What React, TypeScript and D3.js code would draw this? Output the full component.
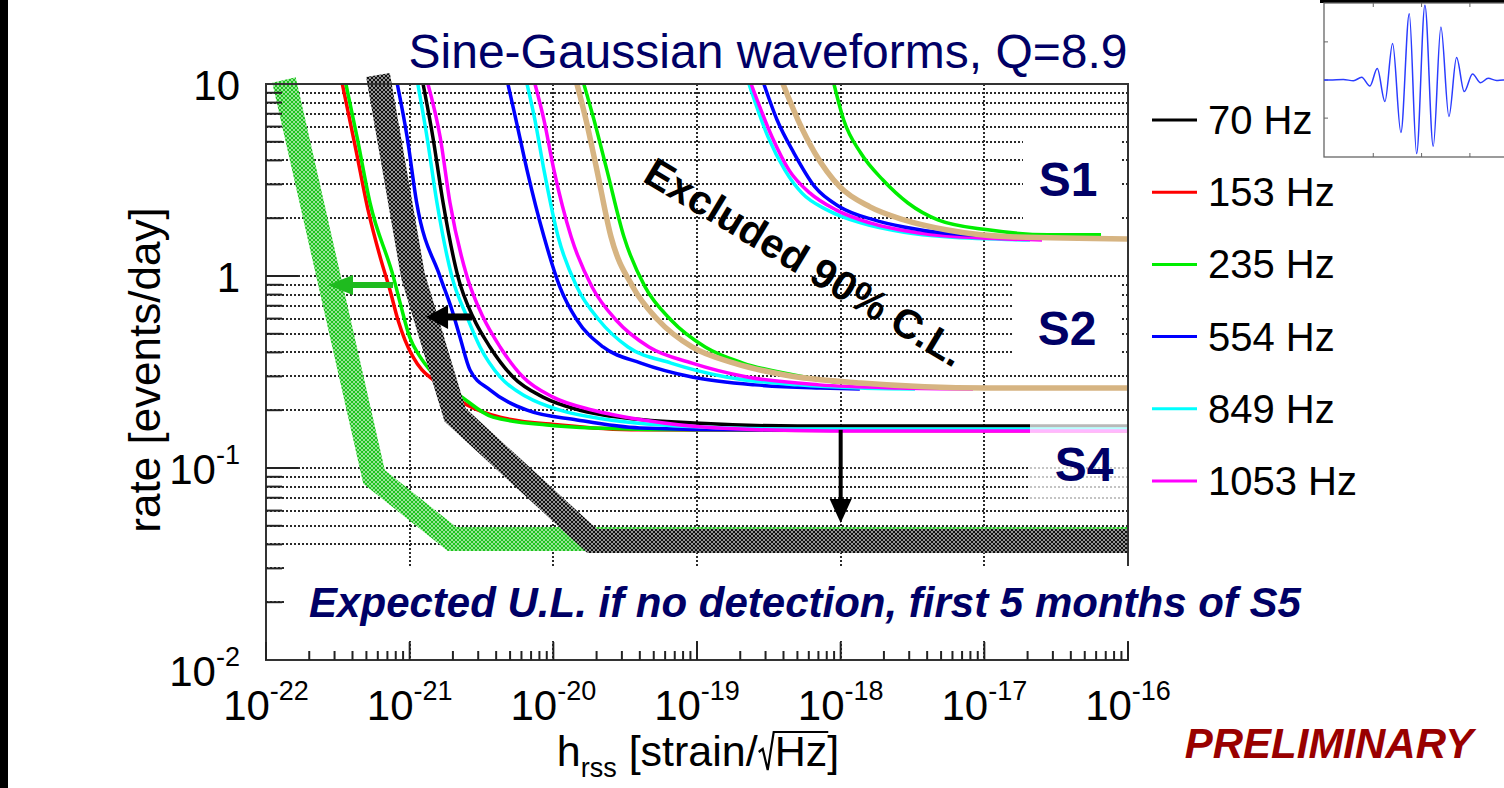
import React, { useEffect, useRef } from "react";
import * as d3 from "d3";

type Pt = [number, number]; // [h_rss (strain/sqrt(Hz)), rate (events/day)]

// ---------- S4 upper limits (plateau near 0.16 events/day)
const s4Hz70: Pt[] = [[1.24e-21, 10], [1.45e-21, 5.3], [1.71e-21, 2.4], [2.17e-21, 0.99], [2.76e-21, 0.611], [3.62e-21, 0.427], [5.24e-21, 0.298], [8.47e-21, 0.234], [1.53e-20, 0.2], [3.2e-20, 0.182], [1.05e-19, 0.171], [5e-19, 0.1655], [1e-16, 0.1655]];
const s4Hz153: Pt[] = [[3.4e-22, 10], [4.23e-22, 4.53], [5.13e-22, 2.21], [6.32e-22, 1.21], [7.29e-22, 0.846], [8.29e-22, 0.59], [9.28e-22, 0.464], [1.055e-21, 0.379], [1.218e-21, 0.324], [1.5e-21, 0.284], [2.51e-21, 0.213], [4.26e-21, 0.184], [1.11e-20, 0.1675], [4.0e-20, 0.158], [1e-16, 0.156]];
const s4Hz235: Pt[] = [[3.6e-22, 10], [4.3e-22, 5.3], [5.3e-22, 2.4], [7.7e-22, 0.99], [8.6e-22, 0.72], [1.0e-21, 0.48], [1.18e-21, 0.38], [1.38e-21, 0.324], [2.35e-21, 0.232], [3.8e-21, 0.184], [9.0e-21, 0.1675], [1.89e-20, 0.1616], [1.05e-19, 0.158], [1e-16, 0.158]];
const s4Hz554: Pt[] = [[8.2e-22, 10], [9.6e-22, 5.3], [1.12e-21, 2.4], [1.63e-21, 0.99], [1.97e-21, 0.665], [2.24e-21, 0.48], [2.63e-21, 0.324], [3.62e-21, 0.255], [6.56e-21, 0.2], [1.46e-20, 0.178], [4.0e-20, 0.1616], [2.2e-19, 0.158], [1e-16, 0.158]];
const s4Hz849: Pt[] = [[1.14e-21, 10], [1.32e-21, 5.3], [1.55e-21, 2.4], [1.97e-21, 0.99], [2.51e-21, 0.611], [3.09e-21, 0.427], [4.26e-21, 0.298], [6.56e-21, 0.234], [1.11e-20, 0.2], [2.48e-20, 0.178], [1.05e-19, 0.1636], [5e-19, 0.1596], [1e-16, 0.1596]];
const s4Hz1053: Pt[] = [[1.34e-21, 10], [1.63e-21, 5.3], [1.91e-21, 2.4], [2.51e-21, 0.99], [3.24e-21, 0.611], [4.26e-21, 0.427], [6.15e-21, 0.298], [9.95e-21, 0.234], [1.89e-20, 0.2], [4.21e-20, 0.178], [1.4e-19, 0.1616], [8.5e-19, 0.156], [1e-16, 0.156]];

// ---------- S2 upper limits (plateau near 0.26 events/day)
const s2Hz554: Pt[] = [[4.83e-21, 10], [5.5e-21, 6.49], [6.56e-21, 3.56], [8.61e-21, 1.6], [1.11e-20, 0.877], [1.46e-20, 0.59], [2.22e-20, 0.427], [4.07e-20, 0.352], [9.23e-20, 0.298], [2.53e-19, 0.271], [7.2e-19, 0.261], [1.36e-18, 0.258]];
const s2Hz849: Pt[] = [[6.56e-21, 10], [7.45e-21, 6.49], [8.61e-21, 3.56], [1.08e-20, 1.6], [1.46e-20, 0.877], [2.08e-20, 0.59], [3.31e-20, 0.427], [6.59e-20, 0.352], [1.59e-19, 0.298], [5.05e-19, 0.271], [1.36e-18, 0.261], [3.29e-18, 0.258]];
const s2Hz1053: Pt[] = [[7.45e-21, 10], [8.61e-21, 6.49], [1.01e-20, 3.56], [1.33e-20, 1.6], [1.86e-20, 0.877], [2.73e-20, 0.59], [4.63e-20, 0.427], [9.23e-20, 0.352], [2.23e-19, 0.298], [7.06e-19, 0.271], [2.6e-18, 0.261], [8.34e-18, 0.258]];
const s2Hz235: Pt[] = [[1.63e-20, 10], [1.92e-20, 6.49], [2.36e-20, 3.56], [3.1e-20, 1.6], [4.35e-20, 0.877], [6.59e-20, 0.59], [1.14e-19, 0.427], [2.09e-19, 0.352], [4.73e-19, 0.305], [9.3e-19, 0.28]];
const s2Tan: Pt[] = [[1.46e-20, 10], [1.69e-20, 6.49], [2.01e-20, 3.56], [2.52e-20, 1.6], [3.58e-20, 0.877], [5.35e-20, 0.59], [9.23e-20, 0.427], [1.81e-19, 0.352], [4.09e-19, 0.305], [1.38e-18, 0.277], [1.06e-17, 0.261], [1e-16, 0.261]];

// ---------- S1 upper limits (plateau near 1.6 events/day)
const s1Hz849: Pt[] = [[2.3e-19, 10], [3.12e-19, 5.3], [4.09e-19, 3.56], [5.38e-19, 2.7], [8.03e-19, 2.21], [1.38e-18, 1.89], [2.76e-18, 1.69], [5.41e-18, 1.6], [2.08e-17, 1.54]];
const s1Hz1053: Pt[] = [[2.38e-19, 10], [3.33e-19, 5.3], [4.37e-19, 3.56], [6.12e-19, 2.7], [9.27e-19, 2.21], [1.6e-18, 1.89], [3.62e-18, 1.67], [9.0e-18, 1.58], [2.52e-17, 1.54]];
const s1Hz554: Pt[] = [[2.92e-19, 10], [3.61e-19, 6.49], [4.73e-19, 4.37], [6.62e-19, 2.91], [9.89e-19, 2.29], [1.71e-18, 1.96], [2.76e-18, 1.8], [5.41e-18, 1.67], [1.29e-17, 1.62], [2.08e-17, 1.6]];
const s1Hz235: Pt[] = [[8.98e-19, 10], [1.05e-18, 6.49], [1.38e-18, 4.37], [1.97e-18, 3.16], [2.94e-18, 2.4], [4.75e-18, 1.96], [1.06e-17, 1.74], [2.77e-17, 1.64], [6.49e-17, 1.64]];
const s1Tan: Pt[] = [[3.97e-19, 10], [5.05e-19, 6.49], [6.62e-19, 4.37], [9.89e-19, 2.91], [1.6e-18, 2.29], [2.76e-18, 1.96], [5.41e-18, 1.74], [1.51e-17, 1.6], [1e-16, 1.56]];

// ---------- Expected S5 upper-limit bands (centre lines)
const expectedGreenBand: Pt[] = [[1.334e-22, 10.49], [5.65e-22, 0.0898], [1.97e-21, 0.0427], [1e-16, 0.0427]];
const expectedBlackBand: Pt[] = [[6.02e-22, 11.14], [1.055e-21, 1.0], [2.07e-21, 0.189], [1.86e-20, 0.0417], [1e-16, 0.0417]];

// ---------- Arrows: [from, to] in data coordinates
const greenArrow: Pt[] = [[7.66e-22, 0.898], [2.7e-22, 0.898]];
const blackArrow: Pt[] = [[2.72e-21, 0.612], [1.3e-21, 0.612]];
const downArrow: Pt[] = [[1e-18, 0.158], [1e-18, 0.0517]];

// ---------- Axes
const xDecades = [1e-22, 1e-21, 1e-20, 1e-19, 1e-18, 1e-17, 1e-16];
const xDecadeExponents = ["-22", "-21", "-20", "-19", "-18", "-17", "-16"];
const yDecades = [0.01, 0.1, 1, 10];
const yDecadeBases = ["10", "10", "1", "10"];
const yDecadeExponents = ["-2", "-1", "", ""];

// ---------- Legend
const legendLabels = ["70 Hz", "153 Hz", "235 Hz", "554 Hz", "849 Hz", "1053 Hz"];
const legendColors = ["#000000", "#ff0000", "#00ee00", "#0000ff", "#00ffff", "#ff00ff"];

// ---------- Sine-Gaussian inset waveform (time in tick units, amplitude in tick units)
const sgTime = [-2.02, -1.9, -1.62, -1.41, -1.24, -1.07, -0.917, -0.759, -0.6, -0.428, -0.255, -0.103, 0.069, 0.241, 0.4, 0.566, 0.724, 0.883, 1.055, 1.221, 1.379, 1.55, 1.69, 2.12];
const sgAmp = [0, 0, 0.01, -0.017, 0.07, -0.157, 0.3, -0.565, 0.957, -1.377, 1.74, -1.93, 1.96, -1.74, 1.39, -0.957, 0.59, -0.304, 0.157, -0.07, 0.043, -0.01, 0, 0];

const W = 1504;
const H = 788;
const FONT = "'Liberation Sans', Arial, Helvetica, sans-serif";
const NAVY = "#000066";
const TAN = "#d6b482";

function draw(svgEl: SVGSVGElement) {
  const svg = d3.select(svgEl);
  svg.selectAll("*").remove();

  const L = 266, R = 1128, T = 84, B = 660;
  const x = d3.scaleLog().domain([1e-22, 1e-16]).range([L, R]);
  const y = d3.scaleLog().domain([0.01, 10]).range([B, T]);

  const defs = svg.append("defs");
  defs.append("clipPath").attr("id", "plotClip").append("rect")
    .attr("x", L).attr("y", T).attr("width", R - L).attr("height", B - T);
  defs.append("clipPath").attr("id", "bandClip").append("rect")
    .attr("x", L).attr("y", 50).attr("width", R - L).attr("height", B - 50);
  const hatch = (id: string, base: string, line: string, op: number) => {
    const p = defs.append("pattern").attr("id", id).attr("width", 4).attr("height", 4)
      .attr("patternUnits", "userSpaceOnUse");
    p.append("rect").attr("width", 4).attr("height", 4).attr("fill", base);
    p.append("path").attr("d", "M0,0L4,4M4,0L0,4")
      .attr("stroke", line).attr("stroke-width", 0.9).attr("stroke-opacity", op);
  };
  hatch("hatchGreen", "#1fc41f", "#ffffff", 0.6);
  hatch("hatchBlack", "#111111", "#e0e0e0", 0.7);

  // page
  svg.append("rect").attr("width", W).attr("height", H).attr("fill", "#ffffff");
  svg.append("rect").attr("x", 0).attr("y", 0).attr("width", 8).attr("height", H).attr("fill", "#000");
  svg.append("rect").attr("x", 1320).attr("y", 0).attr("width", W - 1320).attr("height", 3).attr("fill", "#000");

  // tick values
  const yMinor: number[] = [];
  [-2, -1, 0].forEach((n) => { for (let k = 2; k <= 9; k++) yMinor.push(k * Math.pow(10, n)); });
  const xMinor: number[] = [];
  [-22, -21, -20, -19, -18, -17].forEach((n) => { for (let k = 2; k <= 9; k++) xMinor.push(k * Math.pow(10, n)); });

  // dotted grid
  const grid = svg.append("g").attr("stroke", "#2a2a2a").attr("stroke-width", 2)
    .attr("stroke-dasharray", "2 2").attr("fill", "none");
  [...yMinor, 0.1, 1].forEach((v) => {
    const yy = Math.round(y(v));
    grid.append("line").attr("x1", L).attr("x2", R).attr("y1", yy).attr("y2", yy);
  });
  xDecades.slice(1, -1).forEach((v) => {
    const xx = Math.round(x(v));
    grid.append("line").attr("x1", xx).attr("x2", xx).attr("y1", T).attr("y2", B);
  });

  // label backdrops for S1 and S2
  svg.append("rect").attr("x", 1023).attr("y", 136).attr("width", 99).attr("height", 90).attr("fill", "#fff");
  svg.append("rect").attr("x", 1013).attr("y", 282).attr("width", 107).attr("height", 82).attr("fill", "#fff");

  // run curves
  const line = d3.line<Pt>().x((d) => x(d[0])).y((d) => y(d[1])).curve(d3.curveMonotoneX);
  const curves: { data: Pt[]; color: string; width: number }[] = [
    { data: s1Hz849, color: legendColors[4], width: 3.5 },
    { data: s1Hz1053, color: legendColors[5], width: 3.5 },
    { data: s1Hz554, color: legendColors[3], width: 3.5 },
    { data: s1Hz235, color: legendColors[2], width: 3.5 },
    { data: s1Tan, color: TAN, width: 5.5 },
    { data: s2Hz554, color: legendColors[3], width: 3.5 },
    { data: s2Hz849, color: legendColors[4], width: 3.5 },
    { data: s2Hz1053, color: legendColors[5], width: 3.5 },
    { data: s2Hz235, color: legendColors[2], width: 3.5 },
    { data: s2Tan, color: TAN, width: 5.5 },
    { data: s4Hz70, color: legendColors[0], width: 3.5 },
    { data: s4Hz153, color: legendColors[1], width: 3.5 },
    { data: s4Hz235, color: legendColors[2], width: 3.5 },
    { data: s4Hz554, color: legendColors[3], width: 3.5 },
    { data: s4Hz849, color: legendColors[4], width: 3.5 },
    { data: s4Hz1053, color: legendColors[5], width: 3.5 },
  ];
  const cg = svg.append("g").attr("clip-path", "url(#plotClip)");
  curves.forEach((c) => {
    cg.append("path").attr("d", line(c.data)).attr("fill", "none")
      .attr("stroke", c.color).attr("stroke-width", c.width).attr("stroke-linejoin", "round");
  });

  // expected-limit bands
  const bandLine = d3.line<Pt>().x((d) => x(d[0])).y((d) => y(d[1]));
  const bg = svg.append("g").attr("clip-path", "url(#bandClip)");
  bg.append("path").attr("d", bandLine(expectedGreenBand)).attr("fill", "none")
    .attr("stroke", "url(#hatchGreen)").attr("stroke-width", 24)
    .attr("stroke-linejoin", "miter").attr("stroke-linecap", "butt");
  bg.append("path").attr("d", bandLine(expectedBlackBand)).attr("fill", "none")
    .attr("stroke", "url(#hatchBlack)").attr("stroke-width", 24)
    .attr("stroke-linejoin", "miter").attr("stroke-linecap", "butt");

  // translucent S4 backdrop
  svg.append("rect").attr("x", 1030).attr("y", 421).attr("width", 97).attr("height", 82)
    .attr("fill", "#fff").attr("fill-opacity", 0.72);

  // frame and ticks
  svg.append("rect").attr("x", L).attr("y", T).attr("width", R - L).attr("height", B - T)
    .attr("fill", "none").attr("stroke", "#333").attr("stroke-width", 2);
  const ticks = svg.append("g").attr("stroke", "#222").attr("stroke-width", 2);
  yMinor.forEach((v) => ticks.append("line").attr("x1", L).attr("x2", L + 16).attr("y1", y(v)).attr("y2", y(v)));
  [0.1, 1].forEach((v) => ticks.append("line").attr("x1", L).attr("x2", L + 32).attr("y1", y(v)).attr("y2", y(v)));
  xMinor.forEach((v) => ticks.append("line").attr("x1", x(v)).attr("x2", x(v)).attr("y1", B).attr("y2", B - 9));
  xDecades.forEach((v) => ticks.append("line").attr("x1", x(v)).attr("x2", x(v)).attr("y1", B).attr("y2", B - 18));

  // backdrop for the expectation note
  svg.append("rect").attr("x", 284).attr("y", 566).attr("width", 1036).attr("height", 75).attr("fill", "#fff");

  // arrows
  const arrow = (pts: Pt[], color: string, shaft: number, headLen: number, headHalf: number) => {
    const x0 = x(pts[0][0]), y0 = y(pts[0][1]), x1 = x(pts[1][0]), y1 = y(pts[1][1]);
    const len = Math.hypot(x1 - x0, y1 - y0);
    const ux = (x1 - x0) / len, uy = (y1 - y0) / len;
    const bx = x1 - ux * headLen, by = y1 - uy * headLen;
    svg.append("line").attr("x1", x0).attr("y1", y0).attr("x2", bx + ux).attr("y2", by + uy)
      .attr("stroke", color).attr("stroke-width", shaft);
    svg.append("path")
      .attr("d", `M${x1},${y1}L${bx - uy * headHalf},${by + ux * headHalf}L${bx + uy * headHalf},${by - ux * headHalf}Z`)
      .attr("fill", color);
  };
  arrow(greenArrow, "#1fbb1f", 6, 25, 10);
  arrow(blackArrow, "#000", 7, 22, 12);
  arrow(downArrow, "#000", 4, 24, 11);

  // tick labels
  const txt = svg.append("g").attr("font-family", FONT).attr("fill", "#000");
  xDecades.forEach((v, i) => {
    const t = txt.append("text").attr("x", x(v)).attr("y", 720).attr("text-anchor", "middle").attr("font-size", 42);
    t.append("tspan").text("10");
    t.append("tspan").attr("font-size", 27).attr("dy", -20).text(xDecadeExponents[i]);
  });
  yDecades.forEach((v, i) => {
    const base = y(v) + (i === 0 ? 26 : 16);
    const t = txt.append("text").attr("x", 240).attr("y", base).attr("text-anchor", "end").attr("font-size", 42);
    t.append("tspan").text(yDecadeBases[i]);
    if (yDecadeExponents[i]) t.append("tspan").attr("font-size", 27).attr("dy", -20).text(yDecadeExponents[i]);
  });

  // y title
  txt.append("text").attr("transform", "translate(160,370) rotate(-90)").attr("text-anchor", "middle")
    .attr("font-size", 44).text("rate [events/day]");

  // x title: h_rss [strain/√Hz]
  const xt = txt.append("g");
  const baseY = 766;
  let cx = 0;
  const piece = (s: string, fs: number, dy: number) => {
    const t = xt.append("text").attr("x", cx).attr("y", baseY + dy).attr("font-size", fs).text(s);
    const w = (t.node() as SVGTextElement).getComputedTextLength();
    cx += w;
    return w;
  };
  piece("h", 43, 0);
  piece("rss", 27, 11);
  piece("\u00a0[strain/", 43, 0);
  const radX = cx;
  cx += 17;
  piece("Hz", 43, 0);
  const hzEnd = cx;
  piece("]", 43, 0);
  xt.append("path")
    .attr("d", `M${radX + 1},${baseY - 14}L${radX + 5},${baseY - 17}L${radX + 10},${baseY + 4}L${radX + 16},${baseY - 34}L${hzEnd + 1},${baseY - 34}`)
    .attr("fill", "none").attr("stroke", "#000").attr("stroke-width", 2.2);
  xt.attr("transform", `translate(${698 - cx / 2},0)`);

  // legend
  const lg = svg.append("g").attr("font-family", FONT);
  legendLabels.forEach((lab, i) => {
    const cy = 120 + i * 72.2;
    lg.append("line").attr("x1", 1152).attr("x2", 1197).attr("y1", cy).attr("y2", cy)
      .attr("stroke", legendColors[i]).attr("stroke-width", 3);
    lg.append("text").attr("x", 1208).attr("y", cy + 14).attr("font-size", 40).attr("fill", "#000").text(lab);
  });

  // titles and annotations
  const ann = svg.append("g").attr("font-family", FONT);
  ann.append("text").attr("x", 768).attr("y", 68).attr("text-anchor", "middle").attr("font-size", 48)
    .attr("fill", NAVY).text("Sine-Gaussian waveforms, Q=8.9");
  [["S1", 1068, 196], ["S2", 1067, 345], ["S4", 1084, 481]].forEach(([s, px, py]) => {
    ann.append("text").attr("x", px as number).attr("y", py as number).attr("text-anchor", "middle")
      .attr("font-size", 48).attr("font-weight", "bold").attr("fill", NAVY).text(s as string);
  });
  ann.append("text").attr("transform", "translate(805,262) rotate(31)").attr("text-anchor", "middle")
    .attr("dy", "0.35em").attr("font-size", 41).attr("font-weight", "bold").attr("fill", "#000")
    .text("Excluded 90% C.L.");
  ann.append("text").attr("x", 805).attr("y", 617).attr("text-anchor", "middle").attr("font-size", 42)
    .attr("font-weight", "bold").attr("font-style", "italic").attr("fill", NAVY)
    .text("Expected U.L. if no detection, first 5 months of S5");
  ann.append("text").attr("x", 1329).attr("y", 758).attr("text-anchor", "middle").attr("font-size", 42)
    .attr("font-weight", "bold").attr("font-style", "italic").attr("fill", "#990000").text("PRELIMINARY");

  // sine-Gaussian inset
  const ix = d3.scaleLinear().domain([-2.02, 2.12]).range([1324, 1524]);
  const iy = d3.scaleLinear().domain([-2.02, 2.02]).range([157, 3]);
  defs.append("clipPath").attr("id", "insetClip").append("rect")
    .attr("x", 1324).attr("y", 3).attr("width", 200).attr("height", 154);
  const ins = svg.append("g");
  ins.append("rect").attr("x", 1324).attr("y", 3).attr("width", 200).attr("height", 154)
    .attr("fill", "#fff").attr("stroke", "#666").attr("stroke-width", 1.3);
  [-1, 0, 1].forEach((v) => {
    ins.append("line").attr("x1", ix(v)).attr("x2", ix(v)).attr("y1", 3).attr("y2", 7).attr("stroke", "#666");
    ins.append("line").attr("x1", ix(v)).attr("x2", ix(v)).attr("y1", 157).attr("y2", 153).attr("stroke", "#666");
    ins.append("line").attr("x1", 1324).attr("x2", 1328).attr("y1", iy(v)).attr("y2", iy(v)).attr("stroke", "#666");
  });
  const wave = d3.line<number>().x((_, i) => ix(sgTime[i])).y((d) => iy(d)).curve(d3.curveMonotoneX);
  ins.append("path").attr("clip-path", "url(#insetClip)").attr("d", wave(sgAmp))
    .attr("fill", "none").attr("stroke", "#2a3cff").attr("stroke-width", 1.5);
}

export default function App() {
  const ref = useRef<SVGSVGElement>(null);
  useEffect(() => {
    if (ref.current) draw(ref.current);
  }, []);
  return (
    <svg
      ref={ref}
      width={W}
      height={H}
      style={{ position: "absolute", left: 0, top: 0, display: "block" }}
      fontFamily={FONT}
    />
  );
}
